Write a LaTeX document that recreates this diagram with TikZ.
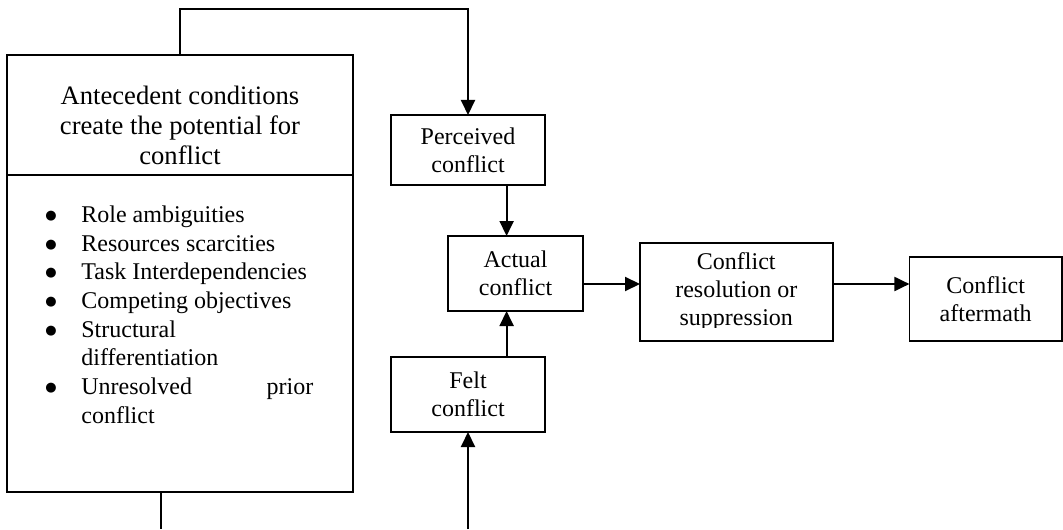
\documentclass[tikz,border=0pt]{standalone}
\usepackage{fontspec}
\setmainfont{Liberation Serif}
\newfontfamily\symfont{DejaVu Sans}
\usetikzlibrary{arrows.meta,positioning}

\newcommand{\causebullet}{\raisebox{1.5pt}{\symfont\fontsize{6.5}{7}\selectfont ●}}

\begin{document}
\begin{tikzpicture}[
    x=0.5pt, y=-0.5pt,
    bigbox/.style={rectangle, draw, line width=0.9pt, minimum width=173pt, outer sep=0pt},
    stage/.style={rectangle, draw, line width=0.9pt, align=center, outer sep=0pt, inner sep=2pt, font=\fontsize{12}{14}\selectfont},
    arrow/.style={line width=1pt, -{Triangle[length=7.5pt,width=7pt]}},
    link/.style={line width=1pt}
]
\useasboundingbox (0,0) rectangle (1063,529);

% Antecedent conditions box
\node[bigbox, minimum height=60pt,
      label={[align=center, yshift=-5pt, font=\fontsize{13.3}{15}\selectfont]center:Antecedent conditions\\create the potential for\\conflict}]
      (antehead) at (180,115) {};
\node[bigbox, minimum height=158.5pt, below=0pt of antehead] (antelist) {};
\node[anchor=north west, inner sep=0pt, font=\fontsize{12}{14.35}\selectfont]
      (causes) at ([xshift=19pt, yshift=-13.5pt]antelist.north west) {%
  \begin{tabular}{@{}p{18pt}@{}l@{}}
  \causebullet & Role ambiguities\\
  \causebullet & Resources scarcities\\
  \causebullet & Task Interdependencies\\
  \causebullet & Competing objectives\\
  \causebullet & Structural\\
               & differentiation\\
  \causebullet & \hbox to 116pt{Unresolved\hfill prior}\\
               & conflict
  \end{tabular}};

% Conflict stages
\node[stage, minimum width=77pt, minimum height=35pt] (perceived) at (468,150) {Perceived\\conflict};
\node[stage, minimum width=67.5pt, minimum height=37.5pt] (actual) at (515.5,273.5) {Actual\\conflict};
\node[stage, minimum width=77pt, minimum height=37.5pt] (felt) at (468,394.5) {Felt\\conflict};
\node[stage, minimum width=96.3pt, minimum height=49pt] (resolve) at (736.3,291.7) {Conflict\\resolution or\\suppression};
\node[stage, minimum width=76.3pt, minimum height=41.7pt] (aftermath) at (985.7,299) {Conflict\\aftermath};

% descenders of the last line cut off by the box
\fill[white] ([shift={(1.5pt,0.7pt)}]resolve.south west) rectangle ([shift={(-1.5pt,6.6pt)}]resolve.south east);

% Free ends of the loops
\coordinate (loop) at (180,9);
\coordinate (feedA) at (160.7,529);
\coordinate (feedB) at (468,529);
\coordinate (flow) at ([yshift=-5.25pt]actual.east);

% Connections
\draw[arrow] (antehead.north) -- (loop) -| (perceived.north);
\draw[arrow] ([xshift=19.3pt]perceived.south) -- ([xshift=19.3pt]perceived.south |- actual.north);
\draw[arrow] ([xshift=19.3pt]felt.north) -- ([xshift=19.3pt]felt.north |- actual.south);
\draw[arrow] (feedB) -- (felt.south);
\draw[link] (antelist.south -| feedA) -- (feedA);
\draw[arrow] (flow) -- (flow -| resolve.west);
\draw[arrow] (flow -| resolve.east) -- (flow -| aftermath.west);

\end{tikzpicture}
\end{document}
